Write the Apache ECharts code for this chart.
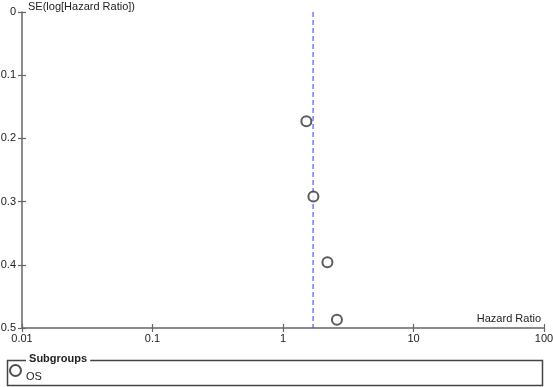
<!DOCTYPE html>
<html><head><meta charset="utf-8">
<script src="https://cdn.jsdelivr.net/npm/echarts@6/dist/echarts.min.js"></script>
<style>html,body{margin:0;padding:0;background:#fff}#c{width:553px;height:387px}</style>
</head><body><div id="c"></div>
<script>
const seriesName = 'OS';
const hazardRatio = [1.51, 1.71, 2.19, 2.59];
const seLogHR = [0.173, 0.292, 0.396, 0.487];
const pooledHR = 1.70;
const xTicks = [0.01, 0.1, 1, 10, 100];
const yTicks = [0, 0.1, 0.2, 0.3, 0.4, 0.5];
const yTitle = 'SE(log[Hazard Ratio])';
const xTitle = 'Hazard Ratio';
const legendTitle = 'Subgroups';

const font = 'Arial, "Liberation Sans", sans-serif';
const axisCol = '#666';
const dashCol = '#3535f5';
const gridRect = {left: 22, right: 9, top: 12, bottom: 59, outerBoundsMode: 'none', containLabel: false};
const chart = echarts.init(document.getElementById('c'));
const fmtX = v => { const r = xTicks.find(t => Math.abs(t - v) / t < 1e-6); return r !== undefined ? String(r) : ''; };
const xBase = (gi, inside, show) => ({
  type: 'log', logBase: 10, min: xTicks[0], max: xTicks[xTicks.length - 1], gridIndex: gi, position: 'bottom',
  axisLine: {show: show, onZero: false, lineStyle: {color: axisCol, width: 1.5}},
  axisTick: {show: true, inside: inside, length: 4, lineStyle: {color: axisCol, width: 1.2}},
  axisLabel: {show: show, margin: 5, color: '#222', fontSize: 11, fontFamily: font, formatter: fmtX},
  splitLine: {show: false}, minorTick: {show: false}
});
const yBase = (gi, inside, show) => ({
  type: 'value', inverse: true, min: yTicks[0], max: yTicks[yTicks.length - 1], interval: 0.1, gridIndex: gi, position: 'left',
  axisLine: {show: show, onZero: false, lineStyle: {color: axisCol, width: 1.5}},
  axisTick: {show: true, inside: inside, length: 4, lineStyle: {color: axisCol, width: 1.2}},
  axisLabel: {show: show, margin: 6, color: '#222', fontSize: 11, fontFamily: font},
  splitLine: {show: false}
});
chart.setOption({
  animation: false,
  grid: [Object.assign({}, gridRect), Object.assign({}, gridRect)],
  xAxis: [xBase(0, false, true), xBase(1, true, false)],
  yAxis: [yBase(0, false, true), yBase(1, true, false)],
  legend: {
    left: 9, top: 364, padding: 0, itemWidth: 11, itemHeight: 11, itemGap: 5,
    formatter: '{t|{name}}',
    textStyle: {fontSize: 11, fontFamily: font, color: '#222', rich: {t: {fontSize: 11, fontFamily: font, color: '#222', padding: [12, 0, 0, 0]}}},
    data: [{name: seriesName, icon: 'emptyCircle', itemStyle: {color: '#222', borderColor: '#222', borderWidth: 1.2}}]
  },
  series: [{
    name: 'pooled', type: 'line', xAxisIndex: 0, yAxisIndex: 0,
    showSymbol: false, symbol: 'none', silent: true,
    itemStyle: {color: dashCol},
    lineStyle: {color: dashCol, type: [5, 3], width: 1},
    data: [[pooledHR, yTicks[0]], [pooledHR, yTicks[yTicks.length - 1]]],
    z: 3
  }, {
    name: seriesName, type: 'scatter', xAxisIndex: 0, yAxisIndex: 0,
    symbol: 'emptyCircle', symbolSize: 10,
    itemStyle: {color: '#333', borderColor: '#333', borderWidth: 1},
    data: hazardRatio.map((h, i) => [h, seLogHR[i]]),
    z: 5
  }],
  graphic: [
    {type: 'text', left: 28, top: 1, style: {text: yTitle, font: '11px ' + font, fill: '#222'}},
    {type: 'text', right: 12, top: 313, style: {text: xTitle, font: '11px ' + font, fill: '#222'}},
    {type: 'rect', shape: {x: 7.5, y: 360.5, width: 535, height: 25}, style: {fill: 'none', stroke: '#444', lineWidth: 1.5}, z: 1},
    {type: 'text', left: 26, top: 353, z: 2, style: {text: ' ' + legendTitle + ' ', font: 'bold 11px ' + font, fill: '#222', backgroundColor: '#fff'}}
  ]
});
</script></body></html>
